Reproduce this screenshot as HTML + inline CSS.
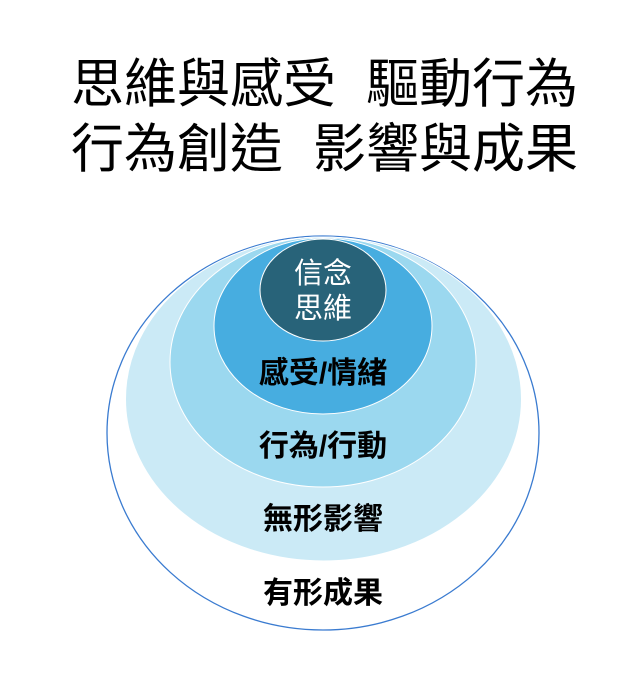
<!DOCTYPE html>
<html><head><meta charset="utf-8"><style>
body{margin:0;width:639px;height:687px;background:#fff;overflow:hidden}
</style></head><body>
<svg width="639" height="687" xmlns="http://www.w3.org/2000/svg" font-family="'Liberation Sans','Noto Sans CJK TC',sans-serif">
<g font-size="53" fill="#000">
<text x="71" y="102">思維與感受</text>
<text x="366" y="102">驅動行為</text>
<text x="71" y="167">行為創造</text>
<text x="313" y="167">影響與成果</text>
</g>
<ellipse cx="323" cy="433" rx="216" ry="197" fill="#fff" stroke="#3a7bd0" stroke-width="1.3"/>
<ellipse cx="323.5" cy="399" rx="198" ry="162" fill="#cbeaf6" stroke="#fff" stroke-width="1"/>
<ellipse cx="323" cy="362" rx="153" ry="125" fill="#9bd8ef" stroke="#fff" stroke-width="1"/>
<ellipse cx="323" cy="326" rx="109" ry="88" fill="#47ade0" stroke="#fff" stroke-width="1"/>
<ellipse cx="323" cy="290" rx="63" ry="51" fill="#286379" stroke="#fff" stroke-width="1"/>
<text x="323" y="283" font-size="29" text-anchor="middle" fill="#fff">信念</text>
<text x="323" y="318" font-size="29" text-anchor="middle" fill="#fff">思維</text>
<g font-size="30" font-weight="bold" text-anchor="middle" fill="#000">
<text x="323" y="383">感受/情緒</text>
<text x="323" y="456">行為/行動</text>
<text x="323" y="529">無形影響</text>
<text x="323" y="603">有形成果</text>
</g>
</svg>
</body></html>
